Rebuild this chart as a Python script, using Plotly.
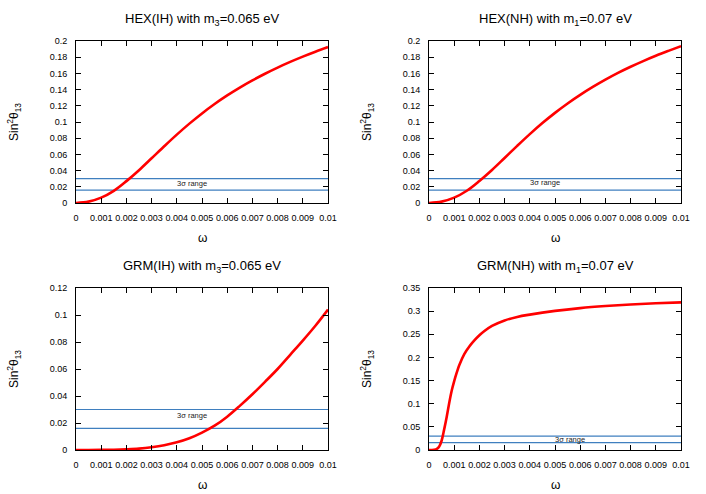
import plotly.graph_objects as go

# omega grid
omega = [0, 0.0005, 0.001, 0.0015, 0.002, 0.0025, 0.003, 0.0035, 0.004, 0.0045, 0.005,
         0.0055, 0.006, 0.0065, 0.007, 0.0075, 0.008, 0.0085, 0.009, 0.0095, 0.01]

hex_ih = [0, 0.0017, 0.0066, 0.0150, 0.0270, 0.0405, 0.0552, 0.0700, 0.0844, 0.0980, 0.1106,
          0.1222, 0.1328, 0.1425, 0.1514, 0.1596, 0.1672, 0.1742, 0.1807, 0.1868, 0.1925]
hex_nh = [0, 0.0017, 0.0066, 0.0151, 0.0272, 0.0408, 0.0556, 0.0705, 0.0850, 0.0987, 0.1113,
          0.1229, 0.1335, 0.1433, 0.1523, 0.1606, 0.1682, 0.1752, 0.1817, 0.1878, 0.1937]
grm_ih = [0, 0.00002, 0.0001, 0.0002, 0.0005, 0.001, 0.002, 0.0035, 0.0057, 0.0087, 0.0129,
          0.018, 0.0247, 0.0327, 0.0413, 0.0505, 0.060, 0.0705, 0.081, 0.092, 0.104]

omega_nh = [0, 0.0002, 0.0003, 0.0004, 0.0005, 0.0006, 0.0007, 0.0008, 0.0009, 0.001, 0.0011,
            0.0012, 0.0014, 0.0016, 0.0018, 0.002, 0.0022, 0.0025, 0.003, 0.0035, 0.004,
            0.005, 0.006, 0.007, 0.008, 0.009, 0.01]
grm_nh = [0, 0.0005, 0.002, 0.007, 0.020, 0.044, 0.071, 0.101, 0.128, 0.149, 0.167,
          0.183, 0.207, 0.2234, 0.2366, 0.2478, 0.257, 0.268, 0.280, 0.2875, 0.2925,
          0.3005, 0.3065, 0.311, 0.3145, 0.317, 0.319]

sigma_low, sigma_high = 0.016, 0.030

xtick_vals = [0, 0.001, 0.002, 0.003, 0.004, 0.005, 0.006, 0.007, 0.008, 0.009, 0.01]
xtick_text = ["0", "0.001", "0.002", "0.003", "0.004", "0.005", "0.006", "0.007", "0.008", "0.009", "0.01"]

panels = [
    dict(title="HEX(IH) with m<sub>3</sub>=0.065 eV", x=omega, y=hex_ih, ymax=0.2, dtick=0.02,
         xdom=[76/706, 328/706], ydom=[1-203/494, 1-41/494], lab=(0.0046, 0.0245)),
    dict(title="HEX(NH) with m<sub>1</sub>=0.07 eV", x=omega, y=hex_nh, ymax=0.2, dtick=0.02,
         xdom=[429/706, 681/706], ydom=[1-203/494, 1-41/494], lab=(0.0046, 0.0255)),
    dict(title="GRM(IH) with m<sub>3</sub>=0.065 eV", x=omega, y=grm_ih, ymax=0.12, dtick=0.02,
         xdom=[76/706, 328/706], ydom=[1-450/494, 1-288/494], lab=(0.0046, 0.0258)),
    dict(title="GRM(NH) with m<sub>1</sub>=0.07 eV", x=omega_nh, y=grm_nh, ymax=0.35, dtick=0.05,
         xdom=[429/706, 681/706], ydom=[1-450/494, 1-288/494], lab=(0.0056, 0.0225)),
]

fig = go.Figure()
annotations = []
font = "Liberation Sans, Arial, sans-serif"

for i, p in enumerate(panels, start=1):
    xa = "x" if i == 1 else f"x{i}"
    ya = "y" if i == 1 else f"y{i}"
    for level in (sigma_low, sigma_high):
        fig.add_trace(go.Scatter(x=[0, 0.01], y=[level, level], mode="lines",
                                 line=dict(color="#3f7fbf", width=1.2),
                                 xaxis=xa, yaxis=ya, showlegend=False))
    fig.add_trace(go.Scatter(x=p["x"], y=p["y"], mode="lines", line_shape="spline",
                             line=dict(color="#ff0000", width=2.6),
                             xaxis=xa, yaxis=ya, showlegend=False))

    axis_common = dict(showline=True, mirror="ticks", ticks="inside", ticklen=5,
                       linecolor="black", linewidth=1, tickcolor="black",
                       showgrid=False, zeroline=False, automargin=False,
                       tickfont=dict(family=font, size=9, color="black"))
    fig.update_layout(**{
        ("xaxis" if i == 1 else f"xaxis{i}"): dict(domain=p["xdom"], range=[0, 0.01],
                                                   anchor=ya, tickvals=xtick_vals,
                                                   ticktext=xtick_text, ticklabelstandoff=6,
                                                   **axis_common),
        ("yaxis" if i == 1 else f"yaxis{i}"): dict(domain=p["ydom"], range=[0, p["ymax"]],
                                                   anchor=xa, dtick=p["dtick"],
                                                   ticklabelstandoff=6, **axis_common),
    })

    xc = (p["xdom"][0] + p["xdom"][1]) / 2
    annotations.append(dict(text=p["title"], x=xc, y=p["ydom"][1] + 21/494, xref="paper",
                            yref="paper", xanchor="center", yanchor="middle", showarrow=False,
                            font=dict(family=font, size=13, color="black")))
    annotations.append(dict(text="ω", x=xc, y=p["ydom"][0] - 35/494, xref="paper",
                            yref="paper", xanchor="center", yanchor="middle", showarrow=False,
                            font=dict(family=font, size=12, color="black")))
    annotations.append(dict(text="Sin<sup>2</sup>θ<sub>13</sub>", x=p["xdom"][0] - 62/706,
                            y=(p["ydom"][0] + p["ydom"][1]) / 2, xref="paper", yref="paper",
                            xanchor="center", yanchor="middle",
                            textangle=-90, showarrow=False,
                            font=dict(family=font, size=12, color="black")))
    annotations.append(dict(text="3σ range", x=p["lab"][0], y=p["lab"][1], xref=xa, yref=ya,
                            xanchor="center", yanchor="middle", showarrow=False,
                            font=dict(family=font, size=7.5, color="#222222")))

fig.update_layout(width=706, height=494, margin=dict(l=0, r=0, t=0, b=0),
                  paper_bgcolor="white", plot_bgcolor="white", annotations=annotations)

# the page's default body margin would shift the figure by 8px
fig.write_html("out.html", config={"displayModeBar": False},
               post_script="document.body.style.margin='0';")
